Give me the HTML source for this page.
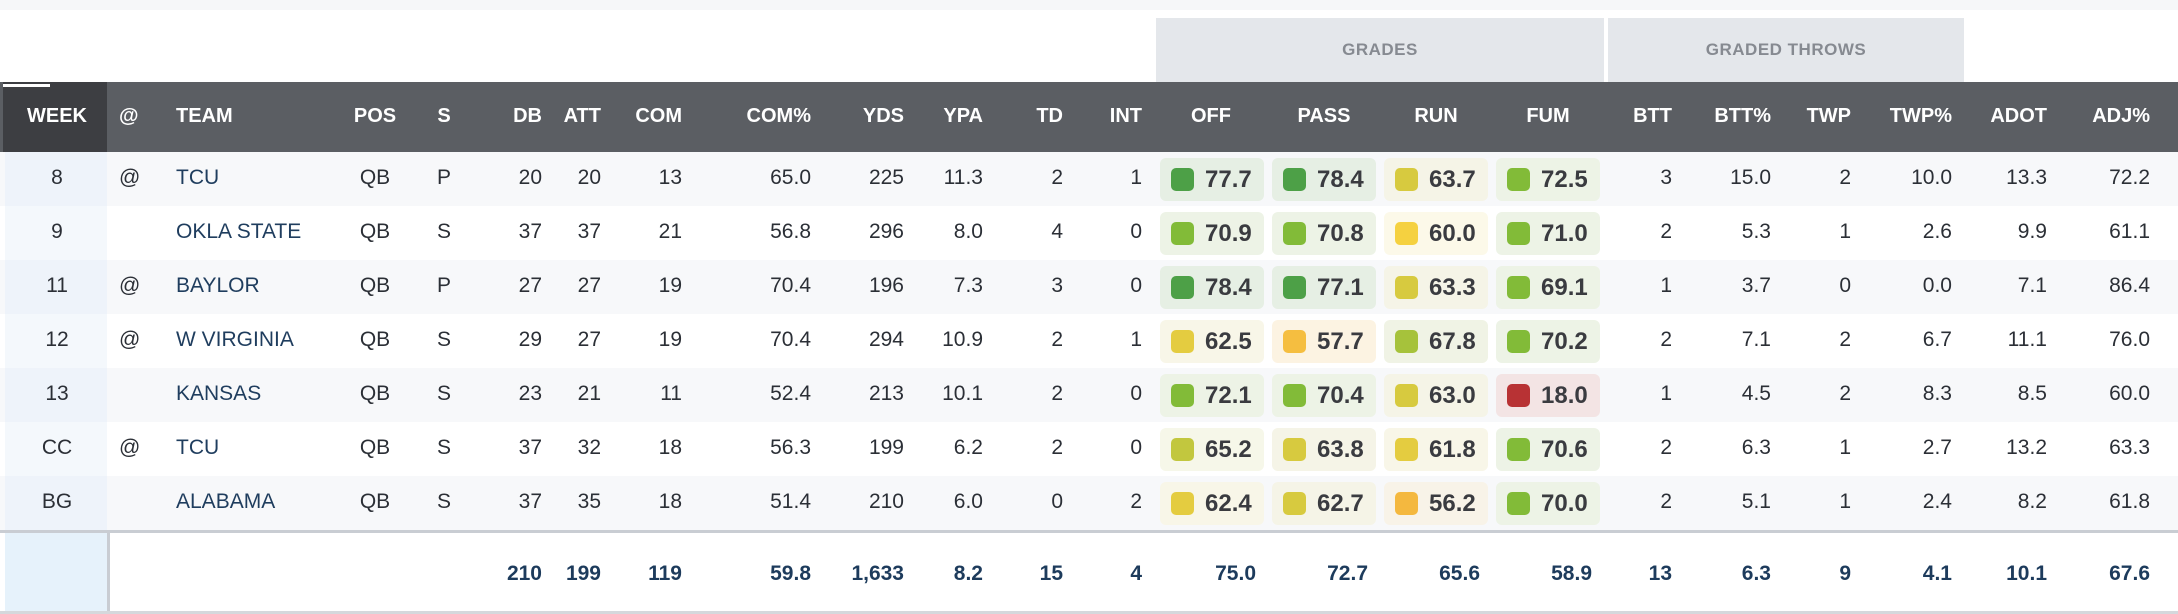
<!DOCTYPE html>
<html><head><meta charset="utf-8">
<style>
body{margin:0;width:2178px;height:614px;background:#fff;font-family:"Liberation Sans",sans-serif;position:relative;overflow:hidden}
.abs{position:absolute}
.hd{position:absolute;color:#fff;font-weight:bold;font-size:20px;top:105px;white-space:nowrap}
.c{position:absolute;font-size:21px;color:#2b2f36;white-space:nowrap}
.badge{position:absolute;width:104px;height:43px;border-radius:6px}
.sq{position:absolute;left:11px;top:10px;width:23px;height:23px;border-radius:5px}
.bv{position:absolute;left:45px;top:8px;font-size:24px;font-weight:bold;color:#3a3b40}
</style></head><body>
<div class="abs" style="left:0;top:0;width:2178px;height:10px;background:#f6f7f9"></div>
<div class="abs" style="left:1156px;top:18px;width:448px;height:64px;background:#e4e7eb;color:#868a91;font-weight:bold;font-size:17px;text-align:center;line-height:64px;letter-spacing:0.5px">GRADES</div>
<div class="abs" style="left:1608px;top:18px;width:356px;height:64px;background:#e4e7eb;color:#868a91;font-weight:bold;font-size:17px;text-align:center;line-height:64px;letter-spacing:0.5px">GRADED THROWS</div>
<div class="abs" style="left:0;top:82px;width:2178px;height:70px;background:#5b5e63"></div>
<div class="abs" style="left:3px;top:82px;width:104px;height:70px;background:#3d3e42"></div>
<div class="abs" style="left:3px;top:84px;width:47px;height:3px;background:#fff"></div>
<div id="table"></div>
<script>
const weeks=["8","9","11","12","13","CC","BG"];
const at=["@","","@","@","","@",""];
const teams=["TCU","OKLA STATE","BAYLOR","W VIRGINIA","KANSAS","TCU","ALABAMA"];
const pos=["QB","QB","QB","QB","QB","QB","QB"];
const st=["P","S","P","S","S","S","S"];
const db=["20","37","27","29","23","37","37"];
const att=["20","37","27","27","21","32","35"];
const com=["13","21","19","19","11","18","18"];
const comp=["65.0","56.8","70.4","70.4","52.4","56.3","51.4"];
const yds=["225","296","196","294","213","199","210"];
const ypa=["11.3","8.0","7.3","10.9","10.1","6.2","6.0"];
const td=["2","4","3","2","2","2","0"];
const ints=["1","0","0","1","0","0","2"];
const off=[77.7,70.9,78.4,62.5,72.1,65.2,62.4];
const pass=[78.4,70.8,77.1,57.7,70.4,63.8,62.7];
const run=[63.7,60.0,63.3,67.8,63.0,61.8,56.2];
const fum=[72.5,71.0,69.1,70.2,18.0,70.6,70.0];
const btt=["3","2","1","2","1","2","2"];
const bttp=["15.0","5.3","3.7","7.1","4.5","6.3","5.1"];
const twp=["2","1","0","2","2","1","1"];
const twpp=["10.0","2.6","0.0","6.7","8.3","2.7","2.4"];
const adot=["13.3","9.9","7.1","11.1","8.5","13.2","8.2"];
const adj=["72.2","61.1","86.4","76.0","60.0","63.3","61.8"];
const totals=["210","199","119","59.8","1,633","8.2","15","4","75.0","72.7","65.6","58.9","13","6.3","9","4.1","10.1","67.6"];
const headers=["WEEK","@","TEAM","POS","S","DB","ATT","COM","COM%","YDS","YPA","TD","INT","OFF","PASS","RUN","FUM","BTT","BTT%","TWP","TWP%","ADOT","ADJ%"];

const T=document.getElementById('table');
const ROW0=152,RH=54;
// column geometry: [anchor x, align]
const geo=[[57,'c'],[119,'l'],[176,'l'],[375,'c'],[444,'c'],[542,'r'],[601,'r'],[682,'r'],[811,'r'],[904,'r'],[983,'r'],[1063,'r'],[1142,'r'],[1211,'c'],[1324,'c'],[1436,'c'],[1548,'c'],[1672,'r'],[1771,'r'],[1851,'r'],[1952,'r'],[2047,'r'],[2150,'r']];
const badgeX=[1160,1272,1384,1496];
function place(el,g){
  if(g[1]==='l'){el.style.left=g[0]+'px';}
  else if(g[1]==='r'){el.style.right=(2178-g[0])+'px';}
  else{el.style.left=(g[0]-100)+'px';el.style.width='200px';el.style.textAlign='center';}
}
function gcol(v){
  if(v<30) return ['#b83234','#f3e4e4'];
  if(v>=75) return ['#4da047','#e6efe4'];
  if(v>=69) return ['#82bb38','#edf3e6'];
  if(v>=66) return ['#a6c23b','#f0f3e5'];
  if(v>=64.5) return ['#c2c73e','#f6f7e9'];
  if(v>=62.6) return ['#d7ca3f','#f5f4e7'];
  if(v>=61.5) return ['#e4cc40','#f8f6e8'];
  if(v>=59) return ['#f5d140','#fcf9e9'];
  if(v>=57) return ['#f5be40','#fcf3e2'];
  return ['#f4b83f','#f8f3e8'];
}
headers.forEach((h,i)=>{
  const d=document.createElement('div');
  d.className='hd';
  
  
  d.textContent=h;place(d,geo[i]);T.appendChild(d);
});
// week column separator
const sep=document.createElement('div');
sep.className='abs';


sep.style.cssText='left:107px;top:152px;width:3px;height:459px;background:#c9cdd3';
T.appendChild(sep);
for(let r=0;r<weeks.length;r++){
  const y=ROW0+r*RH;
  const bg=document.createElement('div');
  bg.className='abs';
  
  
  bg.style.cssText=`left:0;top:${y}px;width:2178px;height:${RH}px;background:${r%2===0?'#f7f8fa':'#fff'}`;
  T.appendChild(bg);
  const wk=document.createElement('div');
  wk.className='abs';
  
  
  wk.style.cssText=`left:5px;top:${y}px;width:102px;height:${RH}px;background:${r%2===0?'#eef3fa':'#f4f8fc'}`;
  T.appendChild(wk);
  const vals=[weeks[r],at[r],teams[r],pos[r],st[r],db[r],att[r],com[r],comp[r],yds[r],ypa[r],td[r],ints[r]];
  vals.forEach((v,i)=>{
    const d=document.createElement('div');d.className='c';
    
    
    d.textContent=v;d.style.top=(y+14)+'px';
    if(i===2)d.style.color='#1f3d5e';
    place(d,geo[i]);T.appendChild(d);
  });
  [off[r],pass[r],run[r],fum[r]].forEach((v,k)=>{
    const c=gcol(v);
    const b=document.createElement('div');b.className='badge';
    
    
    b.style.left=badgeX[k]+'px';b.style.top=(y+6)+'px';b.style.background=c[1];
    b.innerHTML=`<div class="sq" style="background:${c[0]}"></div><div class="bv">${v.toFixed(1)}</div>`;
    T.appendChild(b);
  });
  const rest=[btt[r],bttp[r],twp[r],twpp[r],adot[r],adj[r]];
  rest.forEach((v,k)=>{
    const i=17+k;
    const d=document.createElement('div');d.className='c';
    
    
    d.textContent=v;d.style.top=(y+14)+'px';place(d,geo[i]);T.appendChild(d);
  });
}
// footer
const fy=ROW0+weeks.length*RH;
const fl=document.createElement('div');fl.className='abs';


fl.style.cssText=`left:0;top:${fy}px;width:2178px;height:3px;background:#c9cdd3`;T.appendChild(fl);
const fw=document.createElement('div');fw.className='abs';


fw.style.cssText=`left:5px;top:${fy+3}px;width:102px;height:${611-fy-3}px;background:#e6f2fb`;T.appendChild(fw);
const fb=document.createElement('div');fb.className='abs';


fb.style.cssText='left:0;top:611px;width:2178px;height:3px;background:#d5d8dc';T.appendChild(fb);
totals.forEach((v,k)=>{
  const i=5+k;
  const d=document.createElement('div');d.className='c';
  
  
  d.textContent=v;d.style.top=(fy+32)+'px';d.style.fontWeight='bold';d.style.color='#1d3b5c';
  let g=geo[i];
  if(i>=13&&i<=16) g=[badgeX[i-13]+96,'r'];
  place(d,g);T.appendChild(d);
});
</script>
</body></html>
